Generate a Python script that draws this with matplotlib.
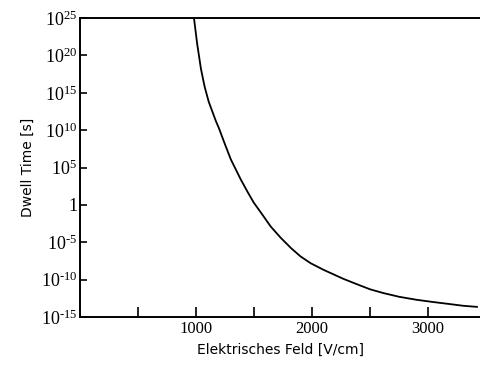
import numpy as np
import matplotlib
matplotlib.use("Agg")
import matplotlib.pyplot as plt

# values (field in V/cm, dwell time as log10 seconds)
feld = [983, 1010, 1043, 1075, 1110, 1172, 1197, 1250, 1300, 1386, 1446, 1498,
        1558, 1644, 1730, 1820, 1901, 1987, 2100, 2185, 2270, 2400, 2500, 2614,
        2750, 2900, 3043, 3200, 3300, 3420]
log_zeit = [25.0, 21.6, 18.2, 15.8, 13.8, 11.2, 10.3, 8.1, 6.1, 3.4, 1.7, 0.3,
            -1.0, -2.9, -4.4, -5.8, -6.9, -7.8, -8.7, -9.3, -9.9, -10.7, -11.3,
            -11.8, -12.3, -12.7, -13.0, -13.3, -13.5, -13.65]

ytick_exp = [25, 20, 15, 10, 5, 0, -5, -10, -15]
ytick_labels = ["$10^{25}$", "$10^{20}$", "$10^{15}$", "$10^{10}$", "$10^{5}$",
                "1", r"$10^{\text{-}5}$", r"$10^{\text{-}10}$", r"$10^{\text{-}15}$"]
xticks = [500, 1000, 1500, 2000, 2500, 3000]
xtick_labels = ["", "1000", "", "2000", "", "3000"]

plt.rcParams["mathtext.fontset"] = "custom"
plt.rcParams["mathtext.rm"] = "Liberation Serif"
plt.rcParams["mathtext.it"] = "Liberation Serif"

fig = plt.figure(figsize=(4.81, 3.69), dpi=100)
ax = fig.add_axes([0.166, 0.141, 0.834, 0.810])

zeit = 10.0 ** np.array(log_zeit)
ax.plot(feld, zeit, color="black", lw=1.3)

ax.set_yscale("log")
ax.set_ylim(1e-15, 1e25)
ax.set_xlim(0, 3455)

ax.set_yticks([10.0 ** e for e in ytick_exp])
ax.set_yticklabels(ytick_labels, fontsize=13, family="Liberation Serif")
ax.yaxis.set_minor_locator(matplotlib.ticker.NullLocator())
ax.set_xticks(xticks)
ax.set_xticklabels(xtick_labels, fontsize=12, family="Liberation Serif")

ax.tick_params(axis="y", direction="in", length=5, width=1.2, pad=2)
ax.tick_params(axis="x", direction="in", length=7, width=1.2, pad=3)

ax.spines["right"].set_visible(False)
for s in ["left", "top", "bottom"]:
    ax.spines[s].set_linewidth(1.4)

ax.set_xlabel("Elektrisches Feld [V/cm]", fontsize=10, labelpad=4)
ax.set_ylabel("Dwell Time [s]", fontsize=10, labelpad=4)

fig.savefig("out.png", dpi=100)
